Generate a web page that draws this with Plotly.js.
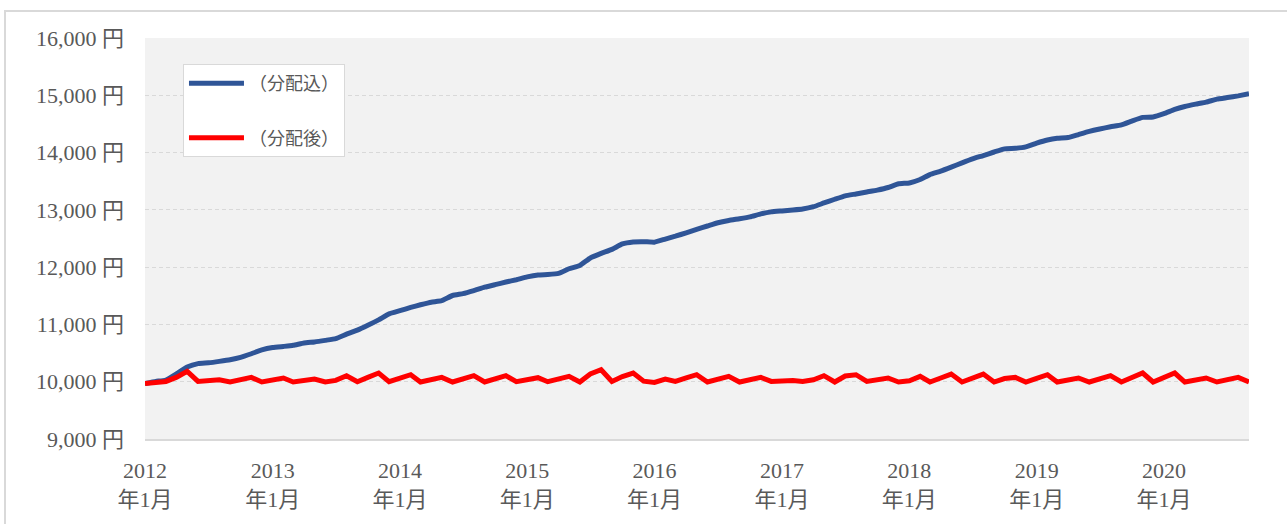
<!DOCTYPE html>
<html>
<head>
<meta charset="utf-8">
<script src="https://cdn.plot.ly/plotly-3.0.1.min.js"></script>
<style>
html,body{margin:0;padding:0;background:#fff;}
#chart{width:1287px;height:524px;}
</style>
</head>
<body>
<div id="chart"></div>
<script>
const months = [
"2012-01","2012-02","2012-03","2012-04","2012-05","2012-06","2012-07","2012-08","2012-09","2012-10","2012-11","2012-12",
"2013-01","2013-02","2013-03","2013-04","2013-05","2013-06","2013-07","2013-08","2013-09","2013-10","2013-11","2013-12",
"2014-01","2014-02","2014-03","2014-04","2014-05","2014-06","2014-07","2014-08","2014-09","2014-10","2014-11","2014-12",
"2015-01","2015-02","2015-03","2015-04","2015-05","2015-06","2015-07","2015-08","2015-09","2015-10","2015-11","2015-12",
"2016-01","2016-02","2016-03","2016-04","2016-05","2016-06","2016-07","2016-08","2016-09","2016-10","2016-11","2016-12",
"2017-01","2017-02","2017-03","2017-04","2017-05","2017-06","2017-07","2017-08","2017-09","2017-10","2017-11","2017-12",
"2018-01","2018-02","2018-03","2018-04","2018-05","2018-06","2018-07","2018-08","2018-09","2018-10","2018-11","2018-12",
"2019-01","2019-02","2019-03","2019-04","2019-05","2019-06","2019-07","2019-08","2019-09","2019-10","2019-11","2019-12",
"2020-01","2020-02","2020-03","2020-04","2020-05","2020-06","2020-07","2020-08","2020-09"
];

const withDist = [
9970,10005,10030,10140,10255,10316,10330,10355,10384,10425,10488,10555,
10596,10616,10635,10677,10695,10722,10752,10830,10900,10985,11080,11185,
11240,11298,11343,11388,11415,11505,11537,11590,11650,11695,11740,11780,
11830,11864,11872,11890,11972,12030,12160,12240,12310,12405,12440,12445,
12435,12490,12540,12600,12660,12718,12775,12815,12845,12878,12930,12965,
12982,12998,13015,13055,13120,13185,13245,13278,13313,13345,13390,13455,
13470,13530,13615,13675,13745,13820,13890,13948,14010,14065,14075,14100,
14165,14220,14250,14262,14315,14370,14412,14450,14483,14550,14615,14622,
14680,14755,14805,14845,14880,14932,14960,14990,15026
];

const afterDist = [
9970,9990,10005,10080,10180,10005,10020,10035,9995,10035,10075,9995,
10030,10065,9995,10020,10047,9995,10023,10105,10000,10075,10152,10000,
10060,10122,9995,10035,10075,9995,10050,10105,9995,10050,10105,10000,
10040,10070,10000,10040,10093,9995,10134,10209,10005,10090,10152,10010,
9988,10047,10005,10065,10122,9995,10045,10093,9995,10035,10075,10005,
10015,10023,10005,10035,10105,9995,10100,10122,10005,10035,10065,9995,
10017,10093,9995,10065,10134,9995,10065,10134,9995,10055,10075,9995,
10060,10122,9995,10040,10065,9995,10050,10105,9995,10075,10152,9995,
10075,10152,9995,10040,10065,9995,10045,10075,9995
];

const seriesNames = ["（分配込）", "（分配後）"];
const xTickVals = ["2012-01","2013-01","2014-01","2015-01","2016-01","2017-01","2018-01","2019-01","2020-01"];
const xTickText = ["2012<br>年1月","2013<br>年1月","2014<br>年1月","2015<br>年1月","2016<br>年1月","2017<br>年1月","2018<br>年1月","2019<br>年1月","2020<br>年1月"];
const yTickVals = [9000,10000,11000,12000,13000,14000,15000,16000];
const yTickText = ["9,000 円","10,000 円","11,000 円","12,000 円","13,000 円","14,000 円","15,000 円","16,000 円"];

const FONT = "'Liberation Serif', 'Noto Sans CJK JP', serif";
const TXT = "#595959";

const traces = [
  {x: months, y: withDist, name: seriesNames[0], type: "scatter", mode: "lines",
   line: {color: "#2F5597", width: 5, shape: "spline", smoothing: 0.4}, legendgroup: "a"},
  {x: months, y: afterDist, name: seriesNames[1], type: "scatter", mode: "lines",
   line: {color: "#FF0000", width: 5}, legendgroup: "b"}
];

const layout = {
  width: 1287, height: 524,
  margin: {l: 145, r: 38, t: 38, b: 85},
  paper_bgcolor: "#FFFFFF",
  plot_bgcolor: "#F2F2F2",
  font: {family: FONT, color: TXT, size: 22},
  showlegend: true,
  legend: {
    x: 0.0344, y: 0.935, xanchor: "left", yanchor: "top",
    bgcolor: "#FFFFFF", bordercolor: "#D9D9D9", borderwidth: 1,
    font: {family: FONT, size: 18, color: TXT},
    tracegroupgap: 28, traceorder: "grouped",
    itemwidth: 55
  },
  xaxis: {
    type: "date",
    range: ["2012-01-01", "2020-09-01"],
    tickmode: "array", tickvals: xTickVals, ticktext: xTickText,
    showgrid: false, zeroline: false,
    showline: true, linecolor: "#D9D9D9", linewidth: 2,
    ticks: "", ticklabelstandoff: 11,
    tickfont: {family: FONT, size: 22, color: TXT},
    fixedrange: true
  },
  yaxis: {
    range: [9000, 16000],
    tickmode: "array", tickvals: yTickVals, ticktext: yTickText,
    showgrid: true, gridcolor: "#D9D9D9", gridwidth: 1, griddash: "4px,3px",
    zeroline: false, showline: false, ticks: "",
    ticklabelstandoff: 20,
    tickfont: {family: FONT, size: 22, color: TXT},
    fixedrange: true
  },
  shapes: [
    {type: "rect", xref: "paper", yref: "paper",
     x0: -0.1268, x1: 1.0417, y0: -0.23, y1: 1.0673,
     line: {color: "#D9D9D9", width: 2}, fillcolor: "rgba(0,0,0,0)", layer: "below"}
  ]
};

Plotly.newPlot("chart", traces, layout, {displayModeBar: false, staticPlot: true});
</script>
</body>
</html>
